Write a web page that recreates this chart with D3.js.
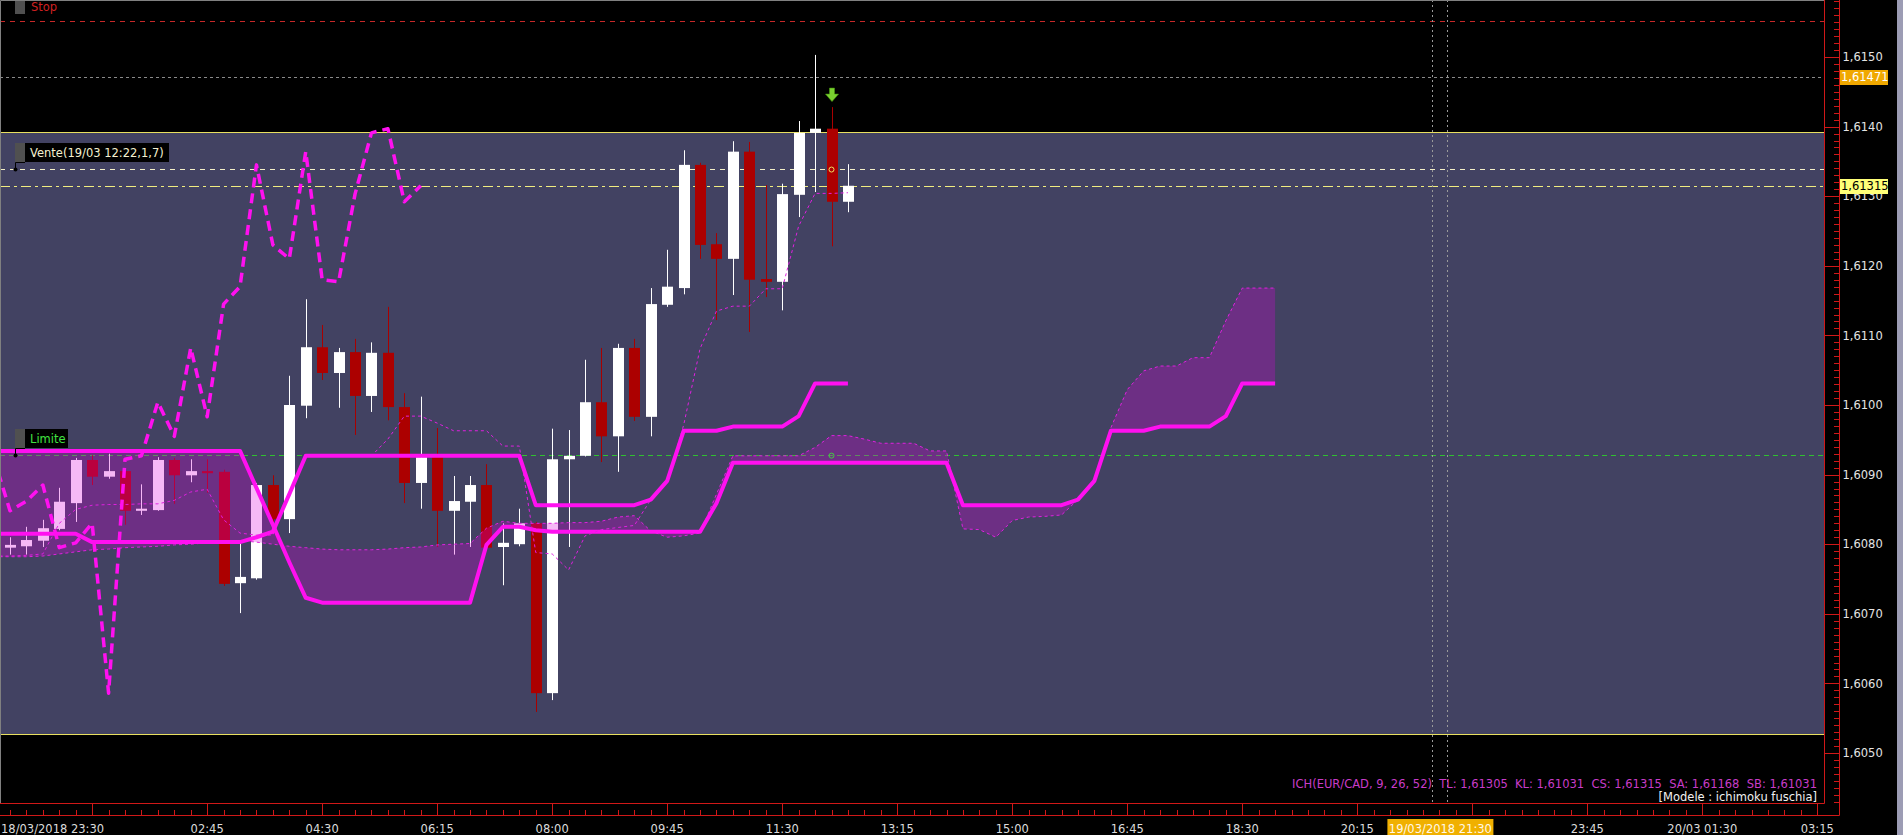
<!DOCTYPE html>
<html><head><meta charset="utf-8">
<script src="https://cdn.jsdelivr.net/npm/d3@7"></script>
<style>html,body{margin:0;padding:0;background:#000;overflow:hidden}svg{display:block}text{font-family:"DejaVu Sans",Verdana,sans-serif}</style>
</head><body><svg id="c" width="1903" height="835"></svg>
<script>
// ---------- DATA ----------
// 15-minute candles, bar 0 = 18/03 23:45
const candleOpen  = [1.60795,1.60797,1.60805,1.60822,1.60859,1.60921,1.60897,1.60905,1.60848,1.60849,1.60921,1.60899,1.60905,1.60904,1.60744,1.60751,1.60885,1.60836,1.60999,1.61083,1.61046,1.61076,1.61013,1.61075,1.60997,1.60888,1.60925,1.60848,1.60861,1.60885,1.60796,1.60800,1.60830,1.60586,1.60922,1.60927,1.61004,1.60955,1.61082,1.60983,1.61144,1.61168,1.61345,1.61231,1.61210,1.61364,1.61181,1.61177,1.61302,1.61391,1.61397,1.61292];
const candleHigh  = [1.60810,1.60825,1.60835,1.60881,1.60924,1.60928,1.60930,1.60909,1.60886,1.60925,1.60924,1.60922,1.60922,1.60907,1.60802,1.60888,1.60899,1.61042,1.61152,1.61115,1.61082,1.61095,1.61090,1.61141,1.61017,1.61012,1.60967,1.60898,1.60898,1.60915,1.60830,1.60851,1.60832,1.60966,1.60964,1.61065,1.61082,1.61088,1.61095,1.61168,1.61223,1.61366,1.61348,1.61247,1.61379,1.61378,1.61316,1.61318,1.61408,1.61503,1.61428,1.61346];
const candleLow   = [1.60785,1.60785,1.60796,1.60820,1.60832,1.60885,1.60894,1.60828,1.60842,1.60848,1.60858,1.60889,1.60874,1.60740,1.60701,1.60749,1.60832,1.60816,1.60981,1.61036,1.60996,1.60957,1.60990,1.60978,1.60859,1.60851,1.60796,1.60785,1.60796,1.60792,1.60741,1.60797,1.60559,1.60576,1.60796,1.60926,1.60918,1.60904,1.60977,1.60955,1.61141,1.61159,1.61210,1.61122,1.61158,1.61105,1.61155,1.61136,1.61270,1.61306,1.61228,1.61277];
const candleClose = [1.60799,1.60806,1.60823,1.60861,1.60921,1.60897,1.60905,1.60848,1.60851,1.60921,1.60899,1.60905,1.60902,1.60743,1.60753,1.60885,1.60836,1.61000,1.61083,1.61046,1.61076,1.61013,1.61075,1.60997,1.60888,1.60925,1.60848,1.60862,1.60885,1.60795,1.60802,1.60830,1.60586,1.60922,1.60927,1.61004,1.60955,1.61082,1.60983,1.61145,1.61170,1.61345,1.61230,1.61210,1.61364,1.61180,1.61177,1.61303,1.61391,1.61397,1.61292,1.61315];

// Ichimoku lines, first value = bar -1
const lineStartBar = -1;
const tenkanSen = [1.60783,1.60783,1.60784,1.60786,1.60830,1.60850,1.60856,1.60857,1.60857,1.60858,1.60858,1.60863,1.60875,1.60879,1.60835,1.60816,1.60813,1.60813,1.60872,1.60927,1.60927,1.60927,1.60927,1.60927,1.60951,1.60984,1.60984,1.60974,1.60963,1.60963,1.60963,1.60941,1.60941,1.60788,1.60786,1.60763,1.60812,1.60821,1.60824,1.60827,1.60864,1.60891,1.60971,1.61081,1.61135,1.61142,1.61142,1.61167,1.61167,1.61257,1.61304,1.61304,1.61305];
const kijunSen  = [1.60815,1.60815,1.60815,1.60815,1.60815,1.60815,1.60803,1.60803,1.60803,1.60803,1.60803,1.60803,1.60803,1.60803,1.60803,1.60803,1.60810,1.60818,1.60872,1.60927,1.60927,1.60927,1.60927,1.60927,1.60927,1.60927,1.60927,1.60927,1.60927,1.60927,1.60927,1.60927,1.60927,1.60856,1.60856,1.60856,1.60856,1.60856,1.60856,1.60856,1.60864,1.60891,1.60963,1.60963,1.60963,1.60969,1.60969,1.60969,1.60969,1.60984,1.61031,1.61031,1.61031];
const senkouSpanA = [1.60782,1.60782,1.60782,1.60783,1.60786,1.60789,1.60792,1.60793,1.60795,1.60796,1.60797,1.60799,1.60800,1.60802,1.60803,1.60805,1.60803,1.60800,1.60797,1.60795,1.60793,1.60792,1.60792,1.60792,1.60793,1.60795,1.60796,
  1.60799,1.60800,1.60801,1.60823,1.60833,1.60830,1.60830,1.60830,1.60831,1.60831,1.60833,1.60839,1.60841,1.60819,1.60810,1.60812,1.60816,1.60872,1.60927,1.60927,1.60927,1.60927,1.60927,1.60939,1.60956,1.60956,
  1.60951,1.60945,1.60945,1.60945,1.60934,1.60934,1.60822,1.60821,1.60810,1.60834,1.60839,1.60840,1.60842,1.60864,1.60891,1.60967,1.61022,1.61049,1.61056,1.61056,1.61068,1.61068,1.61121,1.61168,1.61168,1.61168];
const senkouSpanB = [1.60934,1.60934,1.60934,1.60934,1.60934,1.60934,1.60934,1.60934,1.60934,1.60934,1.60934,1.60934,1.60934,1.60934,1.60934,1.60934,1.60881,1.60828,1.60774,1.60723,1.60716,1.60716,1.60716,1.60716,1.60716,1.60716,1.60716,1.60716,1.60716,1.60716,1.60799,1.60825,1.60825,1.60820,1.60818,1.60818,1.60818,1.60818,1.60818,1.60818,1.60818,1.60818,1.60818,1.60818,1.60859,
  1.60917,1.60917,1.60917,1.60917,1.60917,1.60917,1.60917,1.60917,1.60917,1.60917,1.60917,1.60917,1.60917,1.60917,1.60856,1.60856,1.60856,1.60856,1.60856,1.60856,1.60856,1.60864,1.60891,1.60963,1.60963,1.60963,1.60969,1.60969,1.60969,1.60969,1.60984,1.61031,1.61031,1.61031];
const chikouShift = 26;

// horizontal levels
const stopLevel = 1.61552, markLevel = 1.61471, venteLevel = 1.61339, lastLevel = 1.61315, limiteLevel = 1.60928;
const zoneTop = 1.61392, zoneBottom = 1.60527;

// axes
const priceTicks = [1.6050,1.6060,1.6070,1.6080,1.6090,1.6100,1.6110,1.6120,1.6130,1.6140,1.6150];
const timeMajorBars = [5,12,19,26,33,40,47,54,61,68,75,82,89,96,103,110];
const timeLabelBars = [12,19,26,33,40,47,54,61,68,75,82,96,103,110];
const timeLabels = ["02:45","04:30","06:15","08:00","09:45","11:30","13:15","15:00","16:45","18:30","20:15","23:45","20/03 01:30","03:15"];
const firstLabel = "18/03/2018 23:30";
const cursorBar = 87, cursorLabel = "19/03/2018 21:30";
const signalBar = 50;

// ---------- LAYOUT ----------
const W = 1903, H = 835, plotR = 1824, plotB = 803, outerR = 1839, outerB = 815;
const FS = 11.5;
const x = d3.scaleLinear().domain([0, 110]).range([10, 10 + 110 * 16.43]);
const y = d3.scaleLinear().domain([1.6050, 1.6150]).range([753, 57]);
const svg = d3.select("#c");
svg.append("rect").attr("width", W).attr("height", H).attr("fill", "#000");
svg.append("rect").attr("x", 1897).attr("y", 0).attr("width", 6).attr("height", H).attr("fill", "#9c9cb4");

const defs = svg.append("defs");
defs.append("clipPath").attr("id", "plot").append("rect").attr("x", 1).attr("y", 1).attr("width", plotR - 1).attr("height", plotB - 1);
const P = svg.append("g").attr("clip-path", "url(#plot)");

// zone
P.append("rect").attr("x", 0).attr("width", plotR).attr("y", y(zoneTop)).attr("height", y(zoneBottom) - y(zoneTop)).attr("fill", "#424262");
[zoneTop, zoneBottom].forEach(v => P.append("line").attr("x1", 0).attr("x2", plotR).attr("y1", Math.round(y(v)) + .5).attr("y2", Math.round(y(v)) + .5).attr("stroke", "#e8e060").attr("stroke-width", 1));

function hline(v, color, dash) {
  P.append("line").attr("x1", 0).attr("x2", plotR).attr("y1", Math.round(y(v)) + .5).attr("y2", Math.round(y(v)) + .5)
    .attr("stroke", color).attr("stroke-width", 1).attr("stroke-dasharray", dash);
}
hline(stopLevel, "#c82828", "5,5");
hline(markLevel, "#8a8a8a", "3,3");
hline(venteLevel, "#f4f0c8", "5,5");
hline(lastLevel, "#f0ec80", "10,4,3,4");
hline(limiteLevel, "#30c030", "5,4");

// cursor lines
[-7.5, 7.5].forEach(d => P.append("line").attr("x1", Math.round(x(cursorBar) + d) + .5).attr("x2", Math.round(x(cursorBar) + d) + .5)
  .attr("y1", 0).attr("y2", plotB).attr("stroke", "#9a9a9a").attr("stroke-dasharray", "2,3"));

// candles
const candles = candleOpen.map((o, i) => ({bar: i, o, h: candleHigh[i], l: candleLow[i], c: candleClose[i]}));
const cg = P.append("g");
candles.forEach(d => {
  const bull = d.c >= d.o;
  const cx = Math.round(x(d.bar));
  cg.append("line").attr("x1", cx + .5).attr("x2", cx + .5).attr("y1", y(d.h)).attr("y2", y(d.l))
    .attr("stroke", bull ? "#ffffff" : "#a80000").attr("stroke-width", 1);
  const top = y(Math.max(d.o, d.c)), bot = y(Math.min(d.o, d.c));
  cg.append("rect").attr("x", cx - 5).attr("width", 11).attr("y", top).attr("height", Math.max(2, bot - top))
    .attr("fill", bull ? "#ffffff" : "#ac0000");
});

// cloud
const spanData = senkouSpanA.map((a, k) => ({bar: k + lineStartBar, a, b: senkouSpanB[k]}));
P.append("path").datum(spanData)
  .attr("d", d3.area().x(d => x(d.bar)).y0(d => y(d.a)).y1(d => y(d.b)))
  .attr("fill", "#e000e0").attr("fill-opacity", 0.28);

const lineGen = d3.line().x(d => x(d.bar)).y(d => y(d.v));
const series = arr => arr.map((v, k) => ({bar: k + lineStartBar, v}));
function drawLine(data, w, dash, color) {
  P.append("path").datum(data).attr("d", lineGen).attr("fill", "none").attr("stroke", color)
    .attr("stroke-width", w).attr("stroke-dasharray", dash).attr("stroke-linejoin", "round");
}
drawLine(series(senkouSpanA), 1, "3,3", "#e020e0");
drawLine(series(senkouSpanB), 4, null, "#ff10f0");
drawLine(series(tenkanSen), 1, "3,3", "#e020e0");
drawLine(series(kijunSen), 4, null, "#ff10f0");
const chikou = candleClose.map((v, i) => ({bar: i - chikouShift, v})).filter(d => d.bar >= -1);
drawLine(chikou, 3.5, "10,6", "#ff10f0");

// signal markers
P.append("circle").attr("cx", x(signalBar)).attr("cy", y(venteLevel) + .5).attr("r", 2.5).attr("fill", "none").attr("stroke", "#f0e060");
P.append("circle").attr("cx", x(signalBar)).attr("cy", y(limiteLevel) + .5).attr("r", 2.5).attr("fill", "none").attr("stroke", "#40d040");
const ax = Math.round(x(signalBar)), ay = y(candleHigh[signalBar]) - 11;
P.append("path").attr("d", `M${ax - 2.5},${ay - 8}h5v6h4l-6.5,7.5l-6.5,-7.5h4z`).attr("fill", "#7ad030").attr("stroke", "#4a9a10").attr("stroke-width", .6);

// order labels
function tag(level, text, color, boxW) {
  const ly = Math.round(y(level));
  const top = ly - 26;
  P.append("rect").attr("x", 15).attr("y", top).attr("width", 10).attr("height", 19).attr("fill", "#505050");
  P.append("rect").attr("x", 25).attr("y", top).attr("width", boxW).attr("height", 19).attr("fill", "#000");
  P.append("text").attr("x", 30).attr("y", top + 14).attr("fill", color).attr("font-size", FS).text(text);
  P.append("path").attr("d", `M25,${top + 19.5}H15.5V${ly + .5}`).attr("fill", "none").attr("stroke", "#000");
  P.append("circle").attr("cx", 15.5).attr("cy", ly + .5).attr("r", 2).attr("fill", "#000");
}
tag(venteLevel, "Vente(19/03 12:22,1,7)", "#f4f0d0", 144);
tag(limiteLevel, "Limite", "#40e040", 43);
svg.append("rect").attr("x", 15).attr("y", 0).attr("width", 10).attr("height", 14).attr("fill", "#505050");
svg.append("text").attr("x", 31).attr("y", 10.5).attr("fill", "#d02020").attr("font-size", FS).text("Stop");

// legend text
const fmt5 = v => d3.format(".5f")(v).replace(".", ",");
const ich = `ICH(EUR/CAD, 9, 26, 52)  TL: ${fmt5(tenkanSen[tenkanSen.length-1])}  KL: ${fmt5(kijunSen[kijunSen.length-1])}  CS: ${fmt5(candleClose[candleClose.length-1])}  SA: ${fmt5(senkouSpanA[senkouSpanA.length-1])}  SB: ${fmt5(senkouSpanB[senkouSpanB.length-1])}`;
svg.append("text").attr("x", 1817).attr("y", 788).attr("text-anchor", "end").attr("fill", "#c83cc8").attr("font-size", FS)
  .style("white-space", "pre").text(ich);
svg.append("text").attr("x", 1817).attr("y", 801).attr("text-anchor", "end").attr("fill", "#f0f0f0").attr("font-size", FS)
  .text("[Modele : ichimoku fuschia]");

// plot border
svg.append("path").attr("d", `M0.5,${plotB}V0.5H${plotR}`).attr("fill", "none").attr("stroke", "#808080");

// ---------- AXES ----------
const red = "#d01818";
// right
const fmt4 = v => d3.format(".4f")(v).replace(".", ",");
const minor = d3.range(16043, 16159).map(v => v / 10000).filter(v => !priceTicks.some(t => Math.abs(t - v) < 1e-7));
const ya = svg.append("g").attr("transform", `translate(${plotR + .5},0)`)
  .call(d3.axisRight(y).tickValues(priceTicks).tickSize(15).tickPadding(3).tickFormat(fmt4));
ya.select(".domain").remove();
ya.selectAll("line").attr("stroke", red);
ya.selectAll("text").attr("fill", "#e4e4e4").attr("font-size", FS).attr("font-family", "DejaVu Sans, Verdana, sans-serif");
const ym = svg.append("g").attr("transform", `translate(${outerR - 5.5},0)`)
  .call(d3.axisRight(y).tickValues(minor).tickSize(5).tickFormat(""));
ym.select(".domain").remove();
ym.selectAll("line").attr("stroke", red);
ya.selectAll(".tick line").attr("shape-rendering", "crispEdges");
ym.selectAll(".tick line").attr("shape-rendering", "crispEdges");

// bottom
const xa = svg.append("g").attr("transform", `translate(0,${plotB + .5})`)
  .call(d3.axisBottom(x).tickValues(timeMajorBars).tickSize(12).tickFormat(""));
xa.select(".domain").remove();
xa.selectAll("line").attr("stroke", red).attr("shape-rendering", "crispEdges");
const minorBars = d3.range(-1, 111).filter(b => !timeMajorBars.includes(b));
const xm = svg.append("g").attr("transform", `translate(0,${outerB - 5.5})`)
  .call(d3.axisBottom(x).tickValues(minorBars).tickSize(5).tickFormat(""));
xm.select(".domain").remove();
xm.selectAll("line").attr("stroke", red).attr("shape-rendering", "crispEdges");
timeLabelBars.forEach((b, k) => svg.append("text").attr("x", x(b)).attr("y", 833).attr("text-anchor", "middle")
  .attr("fill", "#dcdcdc").attr("font-size", FS).text(timeLabels[k]));
svg.append("text").attr("x", 1).attr("y", 833).attr("text-anchor", "start").attr("fill", "#dcdcdc").attr("font-size", FS).text(firstLabel);

// axis frame
svg.append("path").attr("d", `M${plotR + .5},0V${plotB + .5}H0`).attr("fill", "none").attr("stroke", red);
svg.append("path").attr("d", `M${outerR + .5},0V${outerB + .5}H0`).attr("fill", "none").attr("stroke", red);

// cursor label
svg.append("rect").attr("x", x(cursorBar) - 52).attr("y", 819).attr("width", 106).attr("height", 16).attr("fill", "#f0b000");
svg.append("text").attr("x", x(cursorBar) + 1).attr("y", 833).attr("text-anchor", "middle").attr("fill", "#fff8e8").attr("font-size", FS).text(cursorLabel);

// price boxes
function pbox(v, bg, fg) {
  const yy = Math.round(y(v));
  svg.append("rect").attr("x", outerR + 1).attr("y", yy - 7).attr("width", 48).attr("height", 15).attr("fill", bg);
  svg.append("text").attr("x", outerR + 2).attr("y", yy + 4).attr("fill", fg).attr("font-size", FS).text(fmt5(v));
}
pbox(markLevel, "#f0a800", "#ffffff");
pbox(lastLevel, "#ffff78", "#000000");
</script></body></html>
